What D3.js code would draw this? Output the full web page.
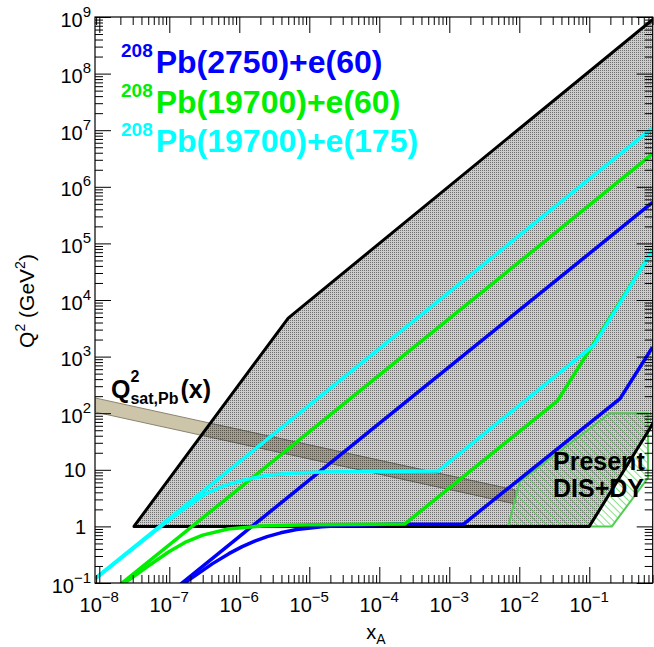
<!DOCTYPE html>
<html><head><meta charset="utf-8">
<script src="https://cdn.jsdelivr.net/npm/d3@7"></script>
<style>
body{margin:0;background:#fff;}
svg{display:block;font-family:"Liberation Sans",Arial,Helvetica,sans-serif;}
</style>
</head><body>
<svg id="c" width="654" height="647"></svg>
<script>
// ---------------- data ----------------
const xMajorTicks = [1e-8, 1e-7, 1e-6, 1e-5, 1e-4, 1e-3, 1e-2, 1e-1];
const xTickLabels = ["10^\u22128", "10^\u22127", "10^\u22126", "10^\u22125", "10^\u22124", "10^\u22123", "10^\u22122", "10^\u22121"];
const yMajorTicks = [1e-1, 1, 10, 1e2, 1e3, 1e4, 1e5, 1e6, 1e7, 1e8, 1e9];
const yTickLabels = ["10^\u22121", "1", "10", "10^2", "10^3", "10^4", "10^5", "10^6", "10^7", "10^8", "10^9"];

// kinematic (grey) region  [x, Q2]
const kinRegion = [[3.13e-8, 1], [5e-6, 4800], [1, 1.125e9], [1, 100], [0.1, 1]];
// present DIS + DY region
const presentDisDy = [[0.0069, 1], [0.0102, 6.2], [0.198, 100], [0.69, 100], [0.69, 7.2], [0.21, 1]];
// Q2_sat,Pb(x) band
const qsatBand = [[0.87e-8, 186], [0.0087, 4.4], [0.0087, 2.5], [0.87e-8, 105]];

// 208Pb(2750)+e(60)
const pb2750e60_upper = [[1.4e-7, 0.092], [1e-6, 0.66], [1e-4, 66], [1e-2, 6600], [0.8, 5.3e5]];
const pb2750e60_lower = [[1.6e-7, 0.095], [1.85e-7, 0.11], [4.15e-7, 0.22], [7.1e-7, 0.33], [1.1e-6, 0.44],
  [1.66e-6, 0.55], [2.5e-6, 0.66], [3.9e-6, 0.77], [6.6e-6, 0.88], [1.5e-5, 0.99], [3.2e-5, 1.04],
  [1.65e-4, 1.09], [1.6e-3, 1.1], [0.275, 181], [0.8, 1470]];
// 208Pb(19700)+e(60)
const pb19700e60_upper = [[2e-8, 0.095], [1e-6, 4.7], [1e-4, 470], [1e-2, 4.7e4], [0.8, 3.8e6]];
const pb19700e60_lower = [[2.3e-8, 0.1], [5e-8, 0.2], [1e-7, 0.36], [1.67e-7, 0.52], [3e-7, 0.7],
  [6.9e-7, 0.9], [2.1e-6, 1.02], [1e-5, 1.07], [2.3e-4, 1.1], [0.035, 165], [0.8, 7.5e4]];
// 208Pb(19700)+e(175)
const pb19700e175_upper = [[0.87e-8, 0.12], [1e-6, 13.8], [1e-4, 1380], [1e-2, 1.38e5], [0.8, 1.1e7]];
const pb19700e175_lower = [[0.87e-8, 0.118], [3e-8, 0.4], [8e-8, 1.05], [1.5e-7, 1.9], [3.2e-7, 3.7],
  [6e-7, 5.2], [1.1e-6, 6.5], [2.5e-6, 8.0], [6.3e-6, 8.8], [1.5e-5, 9.1], [1e-4, 9.3], [6.9e-4, 9.5],
  [0.117, 1615], [0.8, 7.5e4]];

const legendIsotope = ["208", "208", "208"];
const legendText = ["Pb(2750)+e(60)", "Pb(19700)+e(60)", "Pb(19700)+e(175)"];
const presentLabel = ["Present", "DIS+DY"];

// ---------------- drawing ----------------
const svg = d3.select("#c");
const L = 95, R = 652.7, T = 17, B = 583;
const x = d3.scaleLog().domain([Math.pow(10, -8.0614), Math.pow(10, -0.0943)]).range([L, R]);
const y = d3.scaleLog().domain([0.1, 1e9]).range([B, T]);

const colBlue = "#0000ff", colGreen = "#00ee00", colCyan = "#00ffff";

const defs = svg.append("defs");
defs.append("clipPath").attr("id", "plot").append("rect")
  .attr("x", L).attr("y", T).attr("width", R - L).attr("height", B - T);
const dots = defs.append("pattern").attr("id", "dots").attr("width", 2).attr("height", 2)
  .attr("patternUnits", "userSpaceOnUse");
dots.append("rect").attr("width", 1).attr("height", 1).attr("fill", "#000").attr("fill-opacity", 0.45);
const hatch = defs.append("pattern").attr("id", "hatch").attr("width", 5).attr("height", 5)
  .attr("patternUnits", "userSpaceOnUse").attr("patternTransform", "rotate(-45)");
hatch.append("line").attr("x1", 0).attr("y1", 0).attr("x2", 0).attr("y2", 5)
  .attr("stroke", "#2fd02f").attr("stroke-width", 1.2);

const area = svg.append("g").attr("clip-path", "url(#plot)");
const poly = d3.line().x(d => x(d[0])).y(d => y(d[1]));
const closed = pts => poly(pts) + "Z";

// Qsat band
area.append("path").attr("d", closed(qsatBand))
  .attr("fill", "#cdc5aa").attr("stroke", "#8a8470").attr("stroke-width", 1);
// grey kinematic region
area.append("path").attr("d", closed(kinRegion)).attr("fill", "#000").attr("fill-opacity", 0.2);
area.append("path").attr("d", closed(kinRegion)).attr("fill", "url(#dots)");
// present DIS+DY
area.append("path").attr("d", closed(presentDisDy)).attr("fill", "url(#hatch)")
  .attr("stroke", "#55cc55").attr("stroke-width", 2);
// outline of kinematic region
area.append("path").attr("d", closed(kinRegion)).attr("fill", "none")
  .attr("stroke", "#000").attr("stroke-width", 3).attr("stroke-linejoin", "round");

const series = [
  [pb2750e60_upper, colBlue], [pb2750e60_lower, colBlue],
  [pb19700e60_upper, colGreen], [pb19700e60_lower, colGreen],
  [pb19700e175_upper, colCyan], [pb19700e175_lower, colCyan]
];
series.forEach(([pts, c]) => {
  area.append("path").attr("d", poly(pts)).attr("fill", "none")
    .attr("stroke", c).attr("stroke-width", 3.5).attr("stroke-linejoin", "round");
});

// ---------- axes / frame ----------
function minorTicks(scale) {
  const [a, b] = scale.domain();
  const out = [];
  for (let e = Math.floor(Math.log10(a)) - 1; e <= Math.ceil(Math.log10(b)); e++) {
    for (let k = 2; k <= 9; k++) {
      const v = k * Math.pow(10, e);
      if (v >= a && v <= b) out.push(v);
    }
  }
  return out;
}
const xMinor = minorTicks(x), yMinor = minorTicks(y);
function addAxis(gen, pos, vals, size) {
  const g = svg.append("g").attr("transform", pos)
    .call(gen.tickValues(vals).tickSize(size).tickFormat(""));
  g.select(".domain").remove();
  g.selectAll(".tick line").attr("stroke", "#000").attr("stroke-width", 1);
}
addAxis(d3.axisBottom(x), `translate(0,${B})`, xMajorTicks, -16);
addAxis(d3.axisBottom(x), `translate(0,${B})`, xMinor, -8);
addAxis(d3.axisTop(x), `translate(0,${T})`, xMajorTicks, -16);
addAxis(d3.axisTop(x), `translate(0,${T})`, xMinor, -8);
addAxis(d3.axisLeft(y), `translate(${L},0)`, yMajorTicks, -16);
addAxis(d3.axisLeft(y), `translate(${L},0)`, yMinor, -8);
addAxis(d3.axisRight(y), `translate(${R},0)`, yMajorTicks, -16);
addAxis(d3.axisRight(y), `translate(${R},0)`, yMinor, -8);
svg.append("rect").attr("x", L).attr("y", T).attr("width", R - L).attr("height", B - T)
  .attr("fill", "none").attr("stroke", "#000").attr("stroke-width", 1.2);

// tick labels
xMajorTicks.forEach((v, i) => {
  const parts = xTickLabels[i].split("^");
  const t = svg.append("text").attr("x", x(v)).attr("y", 612).attr("text-anchor", "middle")
    .attr("font-size", 20).attr("fill", "#000");
  t.append("tspan").text(parts[0]);
  if (parts[1]) t.append("tspan").attr("font-size", 15).attr("dy", -10).text(parts[1]);
});
yMajorTicks.forEach((v, i) => {
  const parts = yTickLabels[i].split("^");
  const hasExp = !!parts[1];
  const t = svg.append("text").attr("x", hasExp ? 91 : 86).attr("y", y(v) + (hasExp ? 9.5 : 7.5))
    .attr("text-anchor", "end").attr("font-size", 20).attr("fill", "#000");
  t.append("tspan").text(parts[0]);
  if (hasExp) t.append("tspan").attr("font-size", 15).attr("dy", -10).text(parts[1]);
});

// axis titles
const xt = svg.append("text").attr("x", 376).attr("y", 639).attr("text-anchor", "middle")
  .attr("font-size", 20);
xt.append("tspan").text("x");
xt.append("tspan").attr("font-size", 14).attr("dy", 5).text("A");

const yt = svg.append("text").attr("transform", "translate(34,301) rotate(-90)")
  .attr("text-anchor", "middle").attr("font-size", 21);
yt.append("tspan").text("Q");
yt.append("tspan").attr("font-size", 14).attr("dy", -9).text("2");
yt.append("tspan").attr("dy", 9).text(" (GeV");
yt.append("tspan").attr("font-size", 14).attr("dy", -9).text("2");
yt.append("tspan").attr("dy", 9).text(")");

// legend
const legCols = [colBlue, colGreen, colCyan];
const legBase = [73, 113, 152];
legendText.forEach((s, i) => {
  const t = svg.append("text").attr("x", 121).attr("y", legBase[i]).attr("font-weight", "bold")
    .attr("fill", legCols[i]).attr("font-size", 32);
  t.append("tspan").attr("font-size", 19).attr("dy", -16).text(legendIsotope[i]);
  t.append("tspan").attr("dy", 16).attr("dx", 3).text(s);
});

// Qsat label
const qx = 111, qy = 398;
const q1 = svg.append("text").attr("x", qx).attr("y", qy).attr("font-size", 25)
  .attr("font-weight", "bold").text("Q");
const qw = q1.node().getComputedTextLength();
const qs = svg.append("text").attr("x", qx + qw).attr("y", 382).attr("font-size", 16)
  .attr("font-weight", "bold").text("2");
const qb = svg.append("text").attr("x", qx + qw).attr("y", 404).attr("font-size", 16)
  .attr("font-weight", "bold").text("sat,Pb");
const qw2 = Math.max(qs.node().getComputedTextLength(), qb.node().getComputedTextLength());
svg.append("text").attr("x", qx + qw + qw2 + 2).attr("y", qy).attr("font-size", 25)
  .attr("font-weight", "bold").text("(x)");

// Present DIS+DY label
presentLabel.forEach((s, i) => {
  svg.append("text").attr("x", 553).attr("y", 470 + i * 27).attr("font-size", 25)
    .attr("font-weight", "bold").attr("fill", "#000").text(s);
});
</script>
</body></html>
